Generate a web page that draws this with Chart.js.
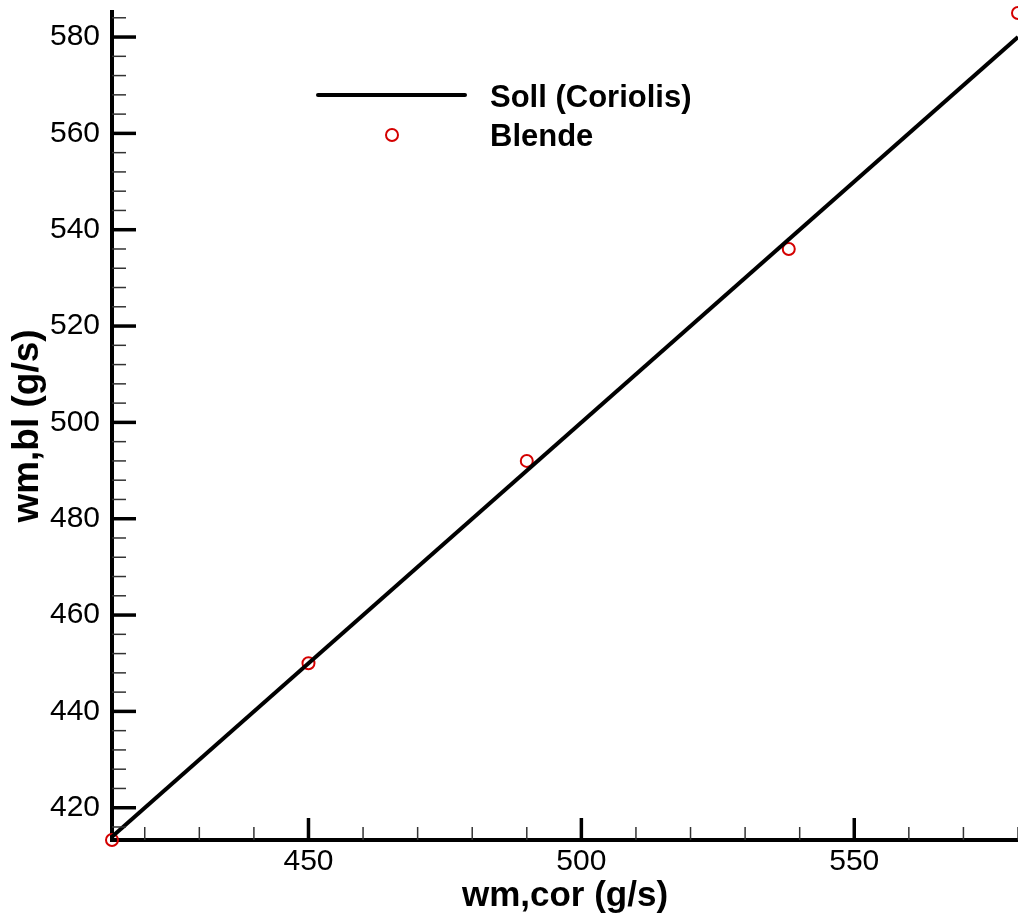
<!DOCTYPE html>
<html>
<head>
<meta charset="utf-8">
<script src="https://cdn.jsdelivr.net/npm/chart.js@4/dist/chart.umd.min.js"></script>
<style>
  body { margin: 0; background: #fff; }
  #wrap { width: 1018px; height: 923px; }
</style>
</head>
<body>
<div id="wrap"><canvas id="chart" width="1018" height="923"></canvas></div>
<script>
// Soll (Coriolis) reference line: wm,bl = wm,cor
const sollX = [414, 580];
const sollY = [414, 580];

// Blende measurements
const blendeX = [414, 450, 490, 538, 580];
const blendeY = [413.3, 450, 492, 536, 585];

const xLabel = 'wm,cor (g/s)';
const yLabel = 'wm,bl (g/s)';

const FONT = "'Liberation Sans', Arial, sans-serif";

// inward major/minor ticks, like the original plot
const innerTicks = {
  id: 'innerTicks',
  afterDraw(chart) {
    const ctx = chart.ctx;
    const xs = chart.scales.x;
    const ys = chart.scales.y;
    const area = chart.chartArea;
    ctx.save();
    ctx.lineCap = 'butt';
    xs.ticks.forEach(t => {
      const px = xs.getPixelForValue(t.value);
      const major = Math.round(t.value) % 50 === 0;
      ctx.beginPath();
      ctx.strokeStyle = major ? '#000' : '#333';
      ctx.lineWidth = major ? 3.5 : 1.5;
      ctx.moveTo(px, area.bottom);
      ctx.lineTo(px, area.bottom - (major ? 22 : 13));
      ctx.stroke();
    });
    ys.ticks.forEach(t => {
      const py = ys.getPixelForValue(t.value);
      const major = Math.round(t.value) % 20 === 0;
      ctx.beginPath();
      ctx.strokeStyle = major ? '#000' : '#333';
      ctx.lineWidth = major ? 3.5 : 1.5;
      ctx.moveTo(area.left, py);
      ctx.lineTo(area.left + (major ? 24 : 14), py);
      ctx.stroke();
    });
    ctx.restore();
  }
};

// legend inside the plot, top left
const plotLegend = {
  id: 'plotLegend',
  afterDraw(chart) {
    const ctx = chart.ctx;
    const ds = chart.data.datasets;
    ctx.save();
    ctx.font = 'bold 31px ' + FONT;
    ctx.fillStyle = '#000';
    ctx.textAlign = 'left';
    ctx.textBaseline = 'alphabetic';

    // line entry
    ctx.beginPath();
    ctx.strokeStyle = ds[0].borderColor;
    ctx.lineWidth = ds[0].borderWidth;
    ctx.lineCap = 'round';
    ctx.moveTo(318, 95);
    ctx.lineTo(465, 95);
    ctx.stroke();
    ctx.fillText(ds[0].label, 490, 107);

    // marker entry
    ctx.beginPath();
    ctx.strokeStyle = ds[1].borderColor;
    ctx.lineWidth = ds[1].borderWidth;
    ctx.arc(392, 135, ds[1].pointRadius, 0, Math.PI * 2);
    ctx.stroke();
    ctx.fillText(ds[1].label, 490, 146);
    ctx.restore();
  }
};

function noPad(scale) {
  scale.paddingTop = 0;
  scale.paddingBottom = 0;
  scale.paddingLeft = 0;
  scale.paddingRight = 0;
}

new Chart(document.getElementById('chart'), {
  type: 'scatter',
  data: {
    datasets: [
      {
        label: 'Soll (Coriolis)',
        data: sollX.map((x, i) => ({ x: x, y: sollY[i] })),
        showLine: true,
        borderColor: '#000',
        borderWidth: 4,
        pointRadius: 0,
        fill: false,
        clip: false
      },
      {
        label: 'Blende',
        data: blendeX.map((x, i) => ({ x: x, y: blendeY[i] })),
        showLine: false,
        borderColor: '#d40000',
        backgroundColor: 'rgba(0,0,0,0)',
        borderWidth: 2,
        pointRadius: 6,
        pointBorderColor: '#d40000',
        pointBackgroundColor: 'rgba(0,0,0,0)',
        clip: false
      }
    ]
  },
  options: {
    responsive: false,
    animation: false,
    layout: { autoPadding: false, padding: { top: 12, left: 0, right: 0, bottom: 0 } },
    plugins: {
      legend: { display: false },
      tooltip: { enabled: false }
    },
    scales: {
      x: {
        type: 'linear',
        min: 414,
        max: 580,
        grid: { display: false, drawTicks: false },
        border: { display: true, color: '#000', width: 4 },
        ticks: {
          stepSize: 10,
          includeBounds: false,
          autoSkip: false,
          maxRotation: 0,
          padding: 4,
          color: '#000',
          font: { family: FONT, size: 30 },
          callback: v => (Math.round(v) % 50 === 0 ? String(v) : '')
        },
        title: {
          display: true,
          text: xLabel,
          color: '#000',
          font: { family: FONT, size: 35, weight: 'bold', lineHeight: 1 },
          padding: { top: 0, bottom: 9 }
        },
        afterFit(scale) { scale.height = 83; noPad(scale); }
      },
      y: {
        type: 'linear',
        min: 413.3,
        max: 585.2,
        grid: { display: false, drawTicks: false },
        border: { display: true, color: '#000', width: 4 },
        ticks: {
          stepSize: 4,
          includeBounds: false,
          autoSkip: false,
          padding: 12,
          color: '#000',
          font: { family: FONT, size: 30 },
          callback: v => (Math.round(v) % 20 === 0 ? String(v) : '')
        },
        title: {
          display: true,
          text: yLabel,
          color: '#000',
          font: { family: FONT, size: 37, weight: 'bold', lineHeight: 1 },
          padding: { top: 9, bottom: 0 }
        },
        afterFit(scale) { scale.width = 112; noPad(scale); }
      }
    }
  },
  plugins: [innerTicks, plotLegend]
});
</script>
</body>
</html>
